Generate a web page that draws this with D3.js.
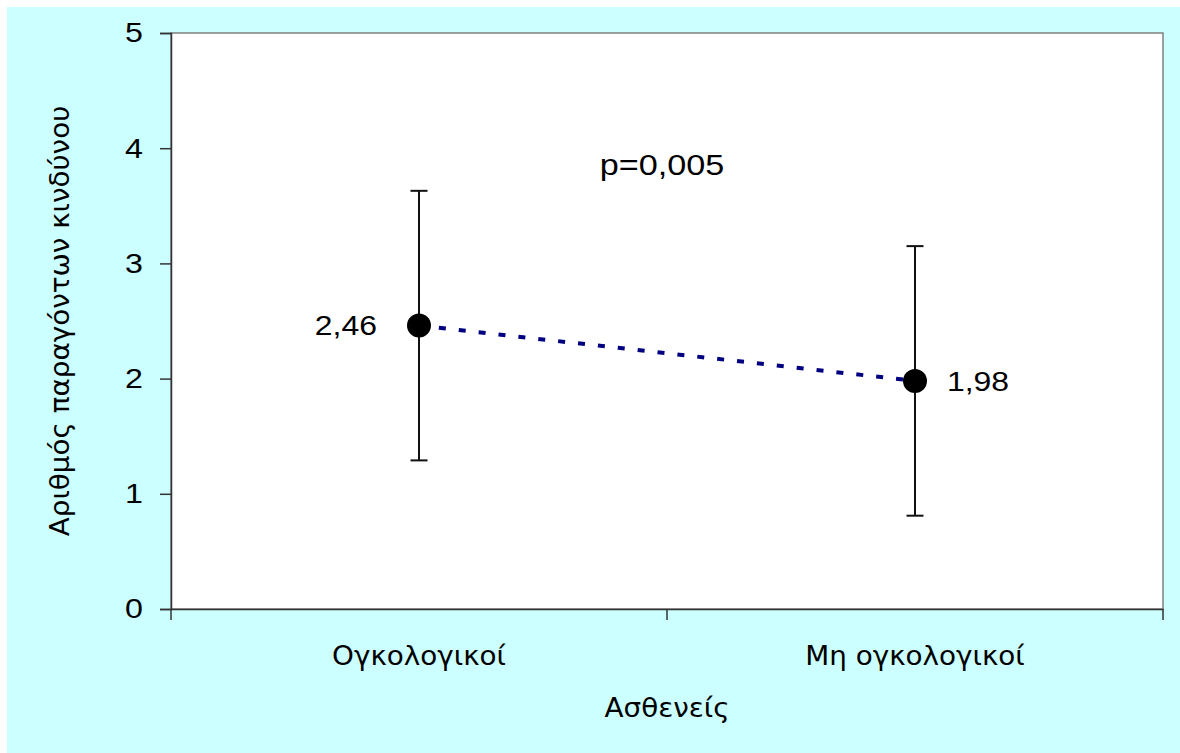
<!DOCTYPE html>
<html>
<head>
<meta charset="utf-8">
<script src="https://cdn.jsdelivr.net/npm/d3@7"></script>
<style>
  html, body { margin: 0; padding: 0; background: #ffffff; }
  svg { display: block; }
</style>
</head>
<body>
<div id="chart"></div>
<script>
// chart data
const categories = ["Ογκολογικοί", "Μη ογκολογικοί"];
const means = [2.46, 1.98];
const upper = [3.63, 3.15];
const lower = [1.29, 0.81];
const meanLabels = ["2,46", "1,98"];
const yTicks = [0, 1, 2, 3, 4, 5];
const pText = "p=0,005";
const xTitle = "Ασθενείς";
const yTitle = "Αριθμός παραγόντων κινδύνου";

const W = 1180, H = 753;
const margin = {top: 33, right: 17, bottom: 144, left: 171};
const width = 1163 - margin.left;
const height = 609 - margin.top;

const numFont = "'Liberation Sans', Arial, sans-serif";
const greekFont = "'DejaVu Sans', sans-serif";

// the original text is a bit wider than the fonts we have, stretch it sideways
const stretch = (sel, k) => sel.each(function () {
  const len = this.getComputedTextLength();
  d3.select(this).attr("textLength", len * k).attr("lengthAdjust", "spacingAndGlyphs");
});

const svg = d3.select("#chart").append("svg")
  .attr("width", W)
  .attr("height", H);

svg.append("rect")
  .attr("x", 7).attr("y", 7)
  .attr("width", W - 7).attr("height", H - 7)
  .attr("fill", "#ccffff");

const g = svg.append("g")
  .attr("transform", `translate(${margin.left}, ${margin.top})`);

g.append("rect")
  .attr("width", width).attr("height", height)
  .attr("fill", "#ffffff")
  .attr("stroke", "#808080")
  .attr("stroke-width", 1.5);

const x = d3.scaleBand().domain(categories).range([0, width]);
const y = d3.scaleLinear().domain([0, 5]).range([height, 0]);
const cx = d => x(d) + x.bandwidth() / 2;

// y axis
const yAxis = g.append("g")
  .call(d3.axisLeft(y).tickValues(yTicks).tickSize(11).tickPadding(17).tickFormat(d3.format("d")));
yAxis.select(".domain").attr("stroke", "#333").attr("stroke-width", 1.5);
yAxis.selectAll(".tick line").attr("stroke", "#333").attr("stroke-width", 1.5);
yAxis.selectAll(".tick text")
  .attr("fill", "#000")
  .style("font-family", numFont)
  .style("font-size", "28px")
  .call(stretch, 1.15);

// x axis
const xAxis = g.append("g")
  .attr("transform", `translate(0, ${height})`)
  .call(d3.axisBottom(x).tickSize(0).tickPadding(37));
xAxis.select(".domain").attr("stroke", "#333").attr("stroke-width", 1.5);
xAxis.selectAll(".tick text")
  .attr("fill", "#000")
  .style("font-family", greekFont)
  .style("font-size", "27px")
  .call(stretch, 1.03);
// category separators
g.append("g").selectAll("line")
  .data([0, width / 2, width])
  .join("line")
  .attr("x1", d => d).attr("x2", d => d)
  .attr("y1", height).attr("y2", height + 11)
  .attr("stroke", "#333").attr("stroke-width", 1.5);

// axis titles
svg.append("text")
  .attr("x", margin.left + width / 2)
  .attr("y", 717)
  .attr("text-anchor", "middle")
  .style("font-family", greekFont)
  .style("font-size", "27px")
  .text(xTitle)
  .call(stretch, 1.03);

svg.append("text")
  .attr("transform", `translate(69, ${margin.top + height / 2}) rotate(-90)`)
  .attr("text-anchor", "middle")
  .style("font-family", greekFont)
  .style("font-size", "27px")
  .text(yTitle)
  .call(stretch, 1.03);

// dashed mean line
g.append("path")
  .datum(categories)
  .attr("d", d3.line().x(d => cx(d)).y((d, i) => y(means[i])))
  .attr("fill", "none")
  .attr("stroke", "#000080")
  .attr("stroke-width", 4)
  .attr("stroke-dasharray", "7,13");

// error bars
const bars = g.append("g").selectAll("g")
  .data(categories)
  .join("g");
bars.append("line")
  .attr("x1", d => cx(d)).attr("x2", d => cx(d))
  .attr("y1", (d, i) => y(upper[i])).attr("y2", (d, i) => y(lower[i]))
  .attr("stroke", "#111").attr("stroke-width", 2);
bars.append("line")
  .attr("x1", d => cx(d) - 8.5).attr("x2", d => cx(d) + 8.5)
  .attr("y1", (d, i) => y(upper[i])).attr("y2", (d, i) => y(upper[i]))
  .attr("stroke", "#111").attr("stroke-width", 2);
bars.append("line")
  .attr("x1", d => cx(d) - 8.5).attr("x2", d => cx(d) + 8.5)
  .attr("y1", (d, i) => y(lower[i])).attr("y2", (d, i) => y(lower[i]))
  .attr("stroke", "#111").attr("stroke-width", 2);

// points
bars.append("circle")
  .attr("cx", d => cx(d)).attr("cy", (d, i) => y(means[i]))
  .attr("r", 12)
  .attr("fill", "#000");

// value labels
bars.append("text")
  .attr("x", (d, i) => i === 0 ? cx(d) - 42 : cx(d) + 32)
  .attr("y", (d, i) => y(means[i]))
  .attr("dy", "0.35em")
  .attr("text-anchor", (d, i) => i === 0 ? "end" : "start")
  .style("font-family", numFont)
  .style("font-size", "28px")
  .text((d, i) => meanLabels[i])
  .call(stretch, 1.14);

// p value
g.append("text")
  .attr("x", width / 2 - 5)
  .attr("y", y(3.77))
  .attr("text-anchor", "middle")
  .style("font-family", numFont)
  .style("font-size", "29px")
  .text(pText)
  .call(stretch, 1.18);
</script>
</body>
</html>
